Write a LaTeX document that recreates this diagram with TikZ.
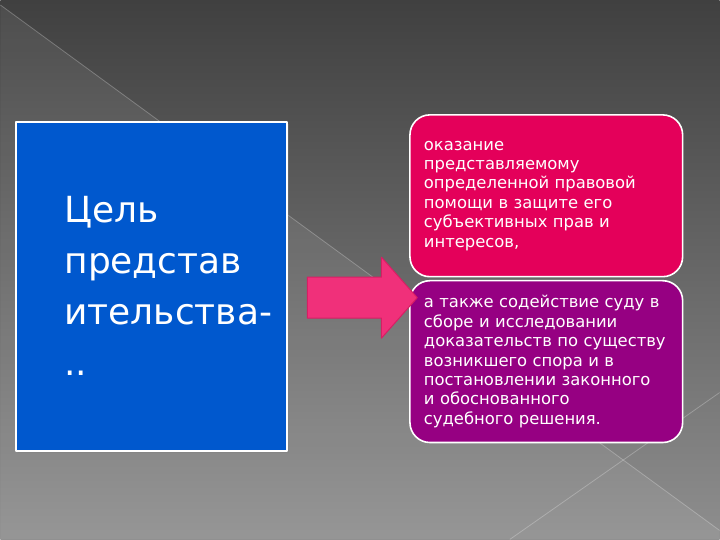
\documentclass[tikz,border=0pt]{standalone}
\usepackage{fontspec}
\setmainfont{DejaVu Sans}
\usetikzlibrary{shapes.arrows,shadows}
\definecolor{bgtop}{HTML}{404040}
\definecolor{bgbottom}{HTML}{8E8E8E}
\definecolor{goalblue}{HTML}{0058CE}
\definecolor{aidpink}{HTML}{E4005A}
\definecolor{helppurple}{HTML}{960082}
\definecolor{arrowpink}{HTML}{F0307A}
\definecolor{arrowedge}{HTML}{D81E64}
\begin{document}
\begin{tikzpicture}[x=1pt, y=-1pt, line join=round,
    goalbox/.style={draw=white, line width=2pt, fill=goalblue, minimum width=271pt, minimum height=329pt, inner sep=0pt,
      drop shadow={opacity=0.35, shadow xshift=2pt, shadow yshift=-2pt}},
    infobox/.style={draw=white, line width=1.6pt, rounded corners=20pt, minimum width=273pt, minimum height=162pt,
      text width=251pt, inner xsep=11pt, inner ysep=0pt, align=left, text=white, font=\fontsize{16.4}{19.4}\selectfont},
    headtext/.style={align=left, inner sep=0pt, font=\fontsize{36}{51}\selectfont},
    bgline/.style={white, opacity=0.25, line width=0.8pt}]
  % background
  \shade[top color=bgtop, bottom color=bgbottom] (0,0) rectangle (720,540);
  \fill[white, opacity=0.07] (0,5) -- (720,531) -- (720,540) -- (0,540) -- cycle;
  \draw[bgline] (0,5) -- (720,531);
  \draw[bgline] (720,393) -- (510,540);
  \useasboundingbox (0,0) rectangle (720,540);

  % left block
  \node[goalbox] (goal) at (151.5,286.5) {};
  \node[headtext, text=white, anchor=west] (goaltext) at ([xshift=49pt]goal.west) {Цель\\представ\\ительства-\\..};

  % right blocks
  \node[infobox, fill=aidpink] (aid) at (546.5,196) {\hspace*{3pt}оказание\\\hspace*{3pt}представляемому\\\hspace*{3pt}определенной правовой\\\hspace*{3pt}помощи в защите его\\\hspace*{3pt}субъективных прав и\\\hspace*{3pt}интересов,};
  \node[infobox, fill=helppurple] (help) at (546.5,362) {\hspace*{3pt}а также содействие суду в\\\hspace*{3pt}сборе и исследовании\\\hspace*{3pt}доказательств по существу\\\hspace*{3pt}возникшего спора и в\\\hspace*{3pt}постановлении законного\\\hspace*{3pt}и обоснованного\\\hspace*{3pt}судебного решения.};

  % arrow
  \node[single arrow, draw=arrowedge, fill=arrowpink, line width=1pt, inner xsep=0pt, inner ysep=20pt,
    minimum height=110pt, single arrow head extend=20pt,
    single arrow tip angle=97, anchor=tip] (pointer) at (418,298) {};
\end{tikzpicture}
\end{document}
